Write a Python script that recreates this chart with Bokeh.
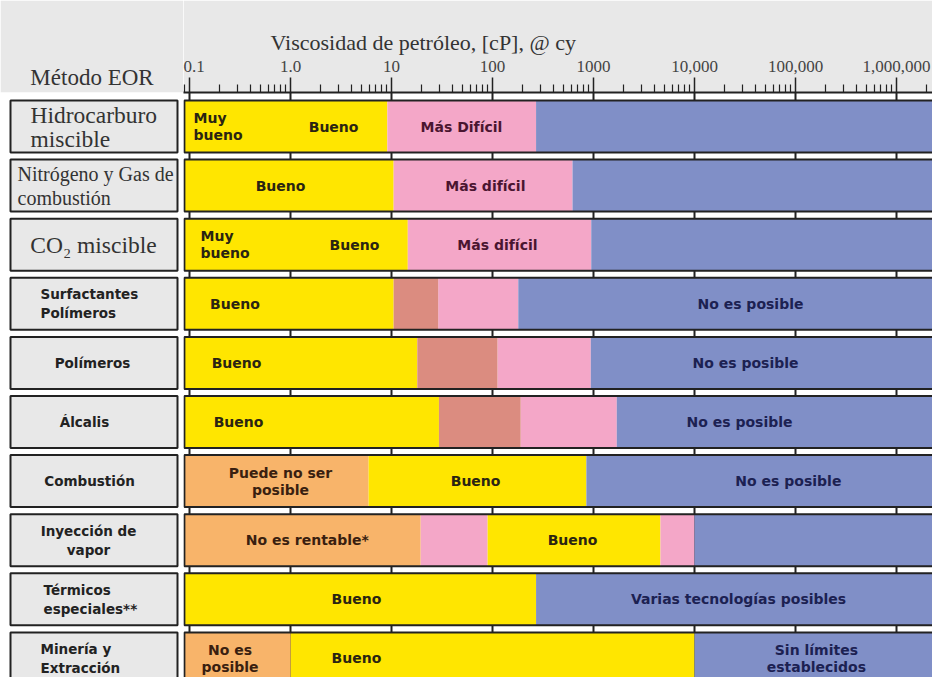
import numpy as np
from bokeh.plotting import figure
from bokeh.layouts import row
from bokeh.models import Range1d, FixedTicker
from bokeh.core.properties import value
from bokeh.embed import file_html
from bokeh.resources import INLINE

# ---------------- data ----------------
methods = ["Hidrocarburo\nmiscible", "Nitrógeno y Gas de\ncombustión", "CO₂ miscible",
           "Surfactantes\nPolímeros", "Polímeros", "Álcalis", "Combustión",
           "Inyección de\nvapor", "Térmicos\nespeciales**", "Minería y\nExtracción"]
header_left = "Método EOR"
axis_title = "Viscosidad de petróleo, [cP], @ cy"

visc_min = 0.089      # lower end of the chart (cP)
visc_max = 1e7        # open-ended upper end (cP)

# boundaries between zones for each method (cP)
breaks = [
    [9.1, 270],
    [10.5, 620],
    [14.5, 950],
    [10.5, 29, 180],
    [18, 112, 940],
    [29.5, 190, 1700],
    [5.9, 850],
    [19.4, 89, 4600, 10000],
    [270],
    [1.0, 10000],
]
# zone type for each interval
zones = [
    ["bueno", "dificil", "no"],
    ["bueno", "dificil", "no"],
    ["bueno", "dificil", "no"],
    ["bueno", "limite", "dificil", "no"],
    ["bueno", "limite", "dificil", "no"],
    ["bueno", "limite", "dificil", "no"],
    ["inviable", "bueno", "no"],
    ["inviable", "dificil", "bueno", "dificil", "no"],
    ["bueno", "no"],
    ["inviable", "bueno", "no"],
]

# texts written inside the bars
bar_row = [0, 0, 0, 1, 1, 2, 2, 2, 3, 3, 4, 4, 5, 5, 6, 6, 6, 7, 7, 8, 8, 9, 9, 9]
bar_text = ["Muy\nbueno", "Bueno", "Más Difícil",
            "Bueno", "Más difícil",
            "Muy\nbueno", "Bueno", "Más difícil",
            "Bueno", "No es posible",
            "Bueno", "No es posible",
            "Bueno", "No es posible",
            "Puede no ser\nposible", "Bueno", "No es posible",
            "No es rentable*", "Bueno",
            "Bueno", "Varias tecnologías posibles",
            "No es\nposible", "Bueno", "Sin límites\nestablecidos"]
# label anchor (cP) -- layout only
bar_x = [0.1096, 2.67, 49.3,
         0.796, 85,
         0.1285, 4.3, 112,
         0.282, 35800,
         0.292, 32000,
         0.306, 27900,
         0.796, 68, 85000,
         1.47, 620,
         4.5, 27300,
         0.252, 4.5, 161000]
bar_left_aligned = [0, 5]

# axis ticks
tick_values = [0.1, 1, 10, 100, 1000, 10000, 100000, 1000000]
tick_labels = ["0.1", "1.0", "10", "100", "1000", "10,000", "100,000", "1,000,000"]

# ---------------- style / layout ----------------
ZONE_COLOR = {"bueno": "#FFE600", "dificil": "#F4A7C8", "limite": "#DB8C80",
              "no": "#808FC7", "inviable": "#F8B46A"}
ZONE_TEXT = {"bueno": "#2a2412", "dificil": "#4a1530", "limite": "#4a1530",
             "no": "#1c2152", "inviable": "#3a1f10"}
GRAY = "#E8E8E8"
EDGE = "#222222"
SERIF = "Liberation Serif"
SANS = "DejaVu Sans"

PITCH = 59.1            # px per row
HALF = 0.44             # half box height in row units
LW, RW = 183, 749
HH, BH = 92, 585
GAP_PX = 8
DEC_PX = 101

# rows are placed at y = -index (first row on top)
y_top_body = HALF + GAP_PX / PITCH
y_bot = y_top_body - BH / PITCH
row_y = [-float(i) for i in range(len(methods))]

xlog0 = -1 - 6 / DEC_PX
xlog1 = xlog0 + RW / DEC_PX

common = dict(output_backend="svg", toolbar_location=None, min_border=0)

# ---------------- right: viscosity scale + bars ----------------
p = figure(width=RW, height=HH + BH, x_axis_type="log",
           x_range=Range1d(10 ** xlog0, 10 ** xlog1),
           y_range=Range1d(y_bot, y_top_body),
           x_axis_location="above", y_axis_location=None, **common)
p.min_border_top = HH
p.outline_line_color = None
p.border_fill_color = GRAY
p.background_fill_color = "white"
p.xgrid.grid_line_color = None
p.ygrid.grid_line_color = None

ax = p.xaxis[0]
minor = [m * 10.0 ** d for d in range(-2, 7) for m in range(2, 10)]
ax.ticker = FixedTicker(ticks=tick_values, minor_ticks=minor)
ax.major_label_overrides = {v: s for v, s in zip(tick_values, tick_labels)}
ax.major_tick_out = 15
ax.major_tick_in = 0
ax.minor_tick_out = 8
ax.minor_tick_in = 0
ax.major_label_standoff = 6
ax.major_label_text_font = SERIF
ax.major_label_text_font_size = "17px"
ax.major_label_text_color = "#444444"
ax.axis_line_color = EDGE
ax.axis_line_width = 2
ax.major_tick_line_color = EDGE
ax.major_tick_line_width = 1.5
ax.minor_tick_line_color = EDGE
ax.minor_tick_line_width = 1.2

p.title.text = axis_title
p.title.align = "left"
p.title.offset = 87
p.title.text_font = SERIF
p.title.text_font_size = "22px"
p.title.text_font_style = "normal"
p.title.text_color = "#333333"
p.title.standoff = 6

# decade marks visible in the gaps between rows
p.segment(x0=tick_values, x1=tick_values, y0=[y_top_body] * len(tick_values),
          y1=[y_bot] * len(tick_values), line_color=EDGE, line_width=2)

seg = {}
for i, (br, zs) in enumerate(zip(breaks, zones)):
    edges = [visc_min] + br + [visc_max]
    for k, z in enumerate(zs):
        d = seg.setdefault(z, ([], [], [], []))
        d[0].append(edges[k]); d[1].append(edges[k + 1])
        d[2].append(row_y[i] + HALF); d[3].append(row_y[i] - HALF)
for z, (l, r, t, b) in seg.items():
    p.quad(left=l, right=r, top=t, bottom=b, fill_color=ZONE_COLOR[z], line_color=None)

p.quad(left=[visc_min] * len(methods), right=[visc_max] * len(methods),
       top=[y + HALF for y in row_y], bottom=[y - HALF for y in row_y],
       fill_color="white", fill_alpha=0, line_color=EDGE, line_width=2)

BAR_LH = 17
groups = {}
for j, (r, t, x) in enumerate(zip(bar_row, bar_text, bar_x)):
    z = zones[r][int(np.searchsorted(breaks[r], x))]
    align = "left" if j in bar_left_aligned else "center"
    lines = t.split("\n")
    n = len(lines)
    g = groups.setdefault((align, ZONE_TEXT[z]), ([], [], []))
    for k, ln in enumerate(lines):
        g[0].append(float(x)); g[1].append(float(row_y[r] - (k - (n - 1) / 2) * BAR_LH / PITCH))
        g[2].append(ln)
for (align, colr), (gx, gy, gt) in groups.items():
    p.text(x=gx, y=gy, text=gt, text_align=align, text_baseline="middle",
           text_font=value(SANS), text_font_style="bold", text_font_size="14px",
           text_color=colr)

# ---------------- left column ----------------
left = figure(width=LW, height=HH + BH, x_range=Range1d(0, LW),
              y_range=Range1d(y_bot, y_top_body),
              x_axis_location=None, y_axis_location=None, **common)
left.min_border_top = HH
left.border_fill_color = GRAY
left.background_fill_color = "white"
left.outline_line_color = None
left.xgrid.grid_line_color = None
left.ygrid.grid_line_color = None
left.title.text = header_left
left.title.align = "center"
left.title.text_font = SERIF
left.title.text_font_size = "23px"
left.title.text_font_style = "normal"
left.title.text_color = "#333333"
left.title.standoff = 6

box_l, box_r = 10, 177
left.quad(left=[box_l] * len(methods), right=[box_r] * len(methods),
          top=[y + HALF for y in row_y], bottom=[y - HALF for y in row_y],
          fill_color=GRAY, line_color=EDGE, line_width=2)

lab_x = [30, 17, 93, 40, 92, 84, 89, 88, 43, 40]
lab_align = ["left", "left", "center", "left", "center", "center", "center", "center", "left", "left"]
lab_serif = [True, True, True, False, False, False, False, False, False, False]
lab_size = ["23.5px", "20px", "23.5px"] + ["13.5px"] * 7
for i, name in enumerate(methods):
    lines = name.split("\n")
    n = len(lines)
    lh = 24 if lab_serif[i] else 19
    ys = [row_y[i] - (k - (n - 1) / 2) * lh / PITCH for k in range(n)]
    left.text(x=[lab_x[i]] * n, y=ys, text=lines, text_align=lab_align[i],
              text_baseline="middle",
              text_font=value(SERIF if lab_serif[i] else SANS),
              text_font_style="normal" if lab_serif[i] else "bold",
              text_font_size=lab_size[i],
              text_color="#333333" if lab_serif[i] else "#222222")

layout = row(left, p)
open("out.html", "w").write(file_html(layout, INLINE))
